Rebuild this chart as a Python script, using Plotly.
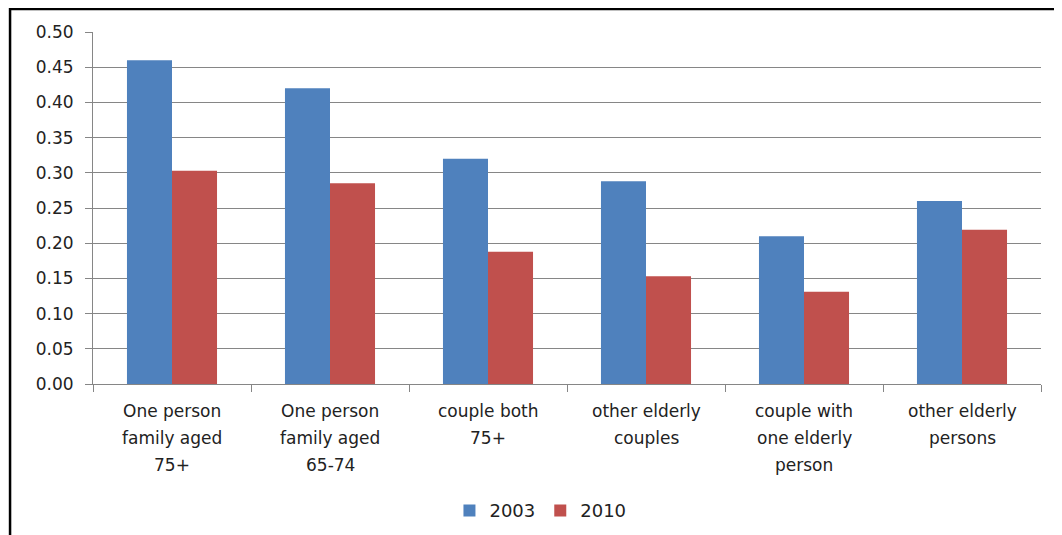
import plotly.graph_objects as go

categories = [
    "One person<br>family aged<br>75+",
    "One person<br>family aged<br>65-74",
    "couple both<br>75+",
    "other elderly<br>couples",
    "couple with<br>one elderly<br>person",
    "other elderly<br>persons",
]
vals_2003 = [0.460, 0.420, 0.320, 0.288, 0.210, 0.260]
vals_2010 = [0.303, 0.285, 0.188, 0.153, 0.131, 0.219]
y_ticks = [0.00, 0.05, 0.10, 0.15, 0.20, 0.25, 0.30, 0.35, 0.40, 0.45, 0.50]

font_name = "DejaVu Sans, sans-serif"

fig = go.Figure()
fig.add_trace(go.Bar(x=categories, y=vals_2003, name="2003", marker_color="#4F81BD",
                     marker_line_width=0))
fig.add_trace(go.Bar(x=categories, y=vals_2010, name="2010", marker_color="#C0504D",
                     marker_line_width=0))

# category labels drawn line by line so the spacing matches the original
for cat in categories:
    for i, line in enumerate(cat.split("<br>")):
        fig.add_annotation(x=cat, xref="x", y=0, yref="paper", yanchor="middle",
                           yshift=-27 - 27 * i, text=line, showarrow=False,
                           font=dict(family=font_name, size=17, color="#222222"))

# outer chart frame
fig.add_shape(type="rect", xref="paper", yref="paper",
              x0=-0.0875, x1=1.05, y0=-0.48, y1=1.065,
              line=dict(color="black", width=2.5), layer="above")

fig.update_layout(
    width=1062, height=535,
    margin=dict(l=85, r=29, t=24, b=159),
    paper_bgcolor="white", plot_bgcolor="white",
    barmode="group", bargap=0.43, bargroupgap=0,
    font=dict(family=font_name, size=17, color="#222222"),
    showlegend=True,
    legend=dict(orientation="h", x=0.472, xanchor="center", y=-0.36, yanchor="middle",
                font=dict(size=18), itemwidth=30, traceorder="normal"),
    xaxis=dict(showticklabels=False, showline=True, linecolor="#868686", linewidth=1,
               ticks="outside", tickson="boundaries", ticklen=7, tickcolor="#868686",
               showgrid=False),
    yaxis=dict(range=[0, 0.5], tickvals=y_ticks, tickformat=".2f",
               showline=True, linecolor="#868686", linewidth=1,
               ticks="outside", ticklen=7, tickcolor="#868686", ticklabelstandoff=8,
               showgrid=True, gridcolor="#868686", gridwidth=1.3, zeroline=False),
)

fig.write_html("out.html")
